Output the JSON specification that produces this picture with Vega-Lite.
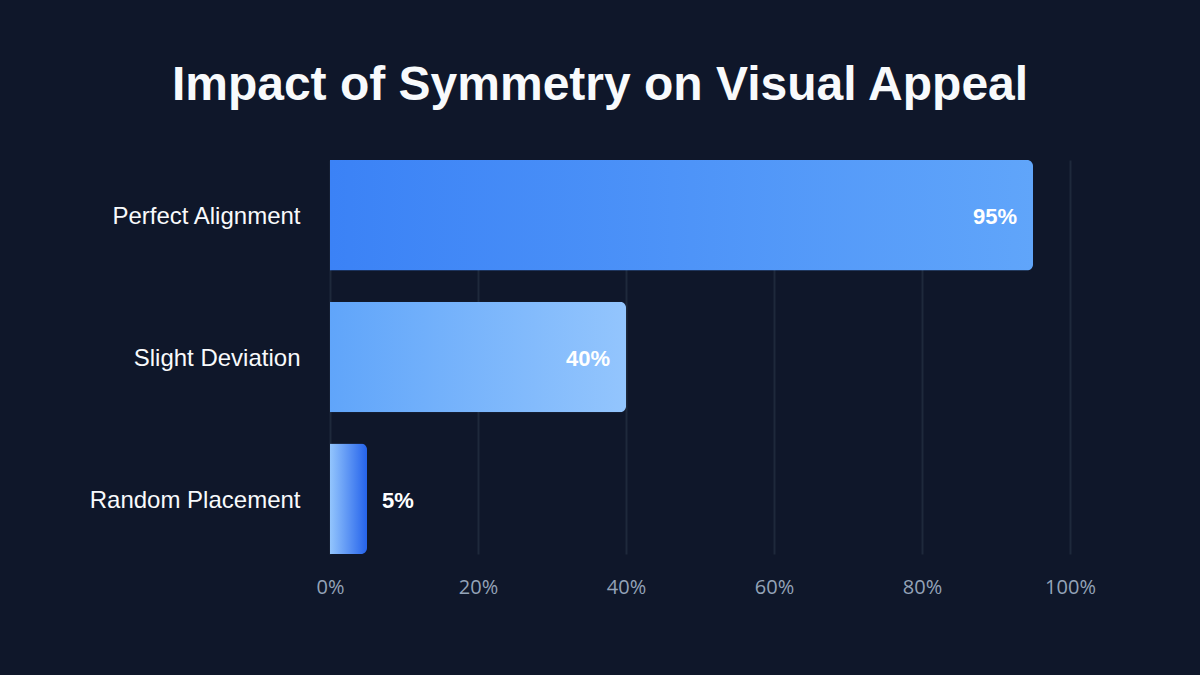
{
  "$schema": "https://vega.github.io/schema/vega-lite/v6.json",
  "width": 740,
  "height": 394,
  "autosize": {"type": "none"},
  "padding": {"left": 330, "top": 160, "right": 130, "bottom": 121},
  "background": "#0f172a",
  "view": {"stroke": null},
  "title": {
    "text": "Impact of Symmetry on Visual Appeal",
    "font": "Liberation Sans",
    "fontSize": 48,
    "fontWeight": "bold",
    "color": "#f8fafc",
    "anchor": "middle",
    "frame": "group",
    "dx": -100,
    "offset": 50
  },
  "data": {
    "values": [
      {"category": "Perfect Alignment", "appeal": 95, "label": "95%"},
      {"category": "Slight Deviation", "appeal": 40, "label": "40%"},
      {"category": "Random Placement", "appeal": 5, "label": "5%"}
    ]
  },
  "encoding": {
    "y": {
      "field": "category",
      "type": "nominal",
      "sort": null,
      "scale": {"paddingInner": 0.22, "paddingOuter": 0},
      "axis": {
        "title": null,
        "domain": false,
        "ticks": false,
        "grid": false,
        "labelPadding": 30,
        "labelOffset": 2,
        "labelLimit": 400,
        "labelFont": "Liberation Sans",
        "labelFontSize": 24,
        "labelColor": "#f8fafc"
      }
    },
    "x": {
      "field": "appeal",
      "type": "quantitative",
      "scale": {"domain": [0, 100]},
      "axis": {
        "title": null,
        "values": [0, 20, 40, 60, 80, 100],
        "labelExpr": "datum.value + '%'",
        "labelFlush": false,
        "domain": false,
        "ticks": false,
        "grid": true,
        "gridColor": "#1e293b",
        "gridWidth": 2,
        "labelPadding": 23,
        "labelFont": "Open Sans",
        "labelFontSize": 20,
        "labelColor": "#94a3b8"
      }
    }
  },
  "layer": [
    {
      "transform": [{"filter": "datum.category === 'Perfect Alignment'"}],
      "mark": {
        "type": "bar",
        "cornerRadiusEnd": 6,
        "color": {
          "gradient": "linear", "x1": 0, "x2": 1, "y1": 0, "y2": 0,
          "stops": [{"offset": 0, "color": "#3b82f6"}, {"offset": 1, "color": "#60a5fa"}]
        }
      }
    },
    {
      "transform": [{"filter": "datum.category === 'Slight Deviation'"}],
      "mark": {
        "type": "bar",
        "cornerRadiusEnd": 6,
        "color": {
          "gradient": "linear", "x1": 0, "x2": 1, "y1": 0, "y2": 0,
          "stops": [{"offset": 0, "color": "#60a5fa"}, {"offset": 1, "color": "#93c5fd"}]
        }
      }
    },
    {
      "transform": [{"filter": "datum.category === 'Random Placement'"}],
      "mark": {
        "type": "bar",
        "cornerRadiusEnd": 6,
        "color": {
          "gradient": "linear", "x1": 0, "x2": 1, "y1": 0, "y2": 0,
          "stops": [{"offset": 0, "color": "#93c5fd"}, {"offset": 1, "color": "#2563eb"}]
        }
      }
    },
    {
      "transform": [{"filter": "datum.appeal >= 20"}],
      "mark": {
        "type": "text",
        "align": "right",
        "baseline": "middle",
        "dx": -16,
        "dy": 2,
        "font": "Liberation Sans",
        "fontSize": 22,
        "fontWeight": "bold",
        "color": "#ffffff"
      },
      "encoding": {"text": {"field": "label"}}
    },
    {
      "transform": [{"filter": "datum.appeal < 20"}],
      "mark": {
        "type": "text",
        "align": "left",
        "baseline": "middle",
        "dx": 15,
        "dy": 2,
        "font": "Liberation Sans",
        "fontSize": 22,
        "fontWeight": "bold",
        "color": "#ffffff"
      },
      "encoding": {"text": {"field": "label"}}
    }
  ]
}
